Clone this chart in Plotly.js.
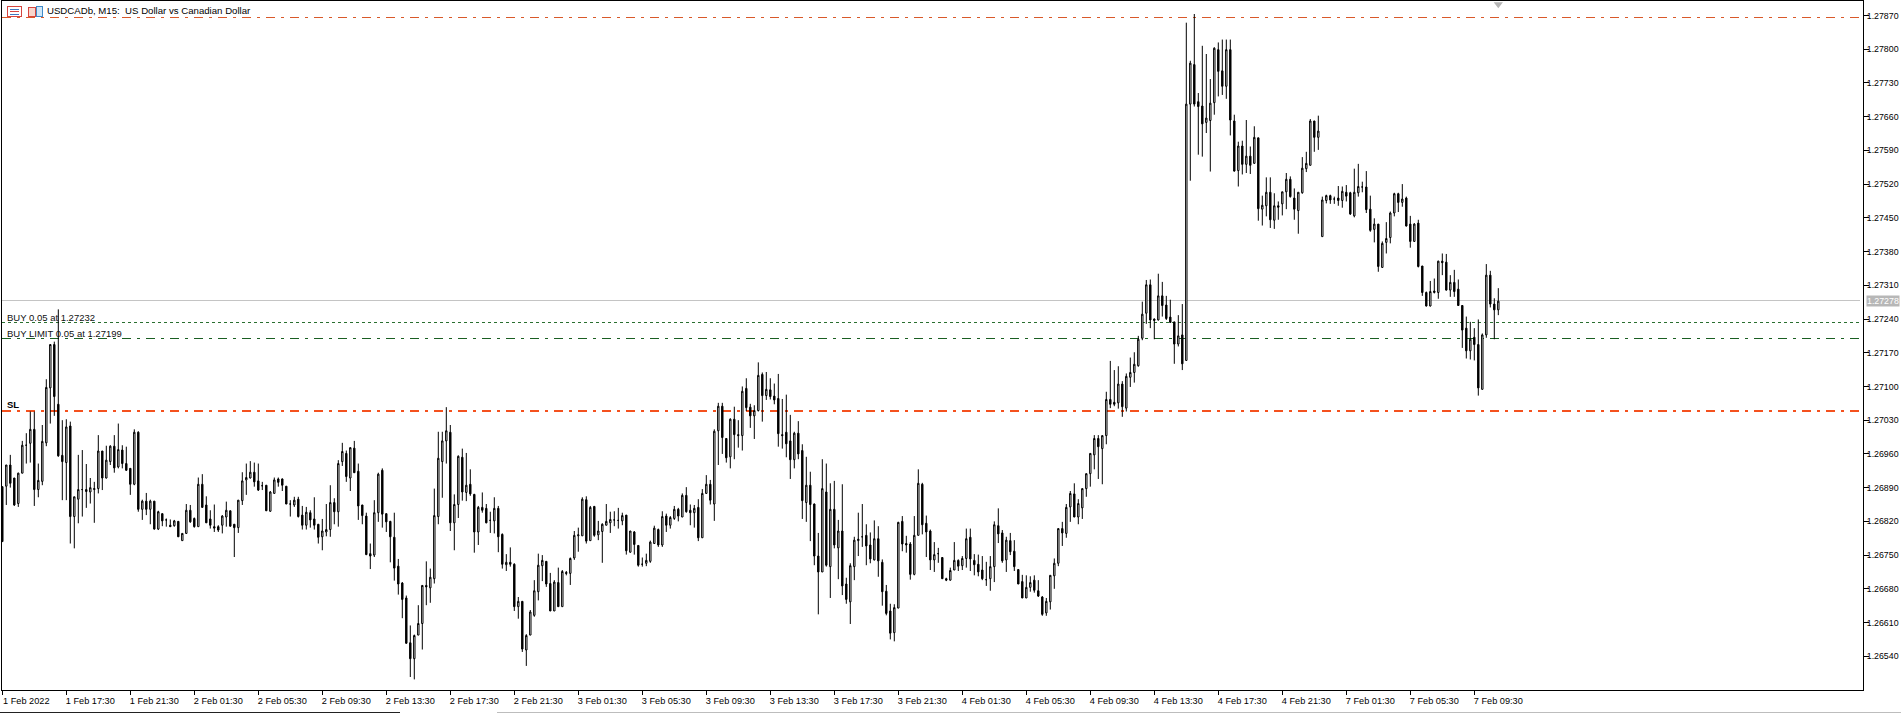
<!DOCTYPE html>
<html><head><meta charset="utf-8">
<script src="https://cdn.plot.ly/plotly-3.0.1.min.js"></script>
<style>html,body{margin:0;padding:0;background:#fff;overflow:hidden}#c{width:1901px;height:714px}
.shapelayer path{shape-rendering:crispEdges !important}</style>
</head><body><div id="c"></div>
<script>
// Prices are stored in points above 1.26000 (1 point = 0.00001)
const openPts=[892,893,937,910,857,920,978,982,1011,886,
903,983,1097,1187,1063,957,942,1018,830,866,
886,886,881,886,888,966,910,944,976,933,
968,940,930,897,1005,845,862,845,862,804,
836,823,812,811,820,780,795,843,826,809,
897,854,825,809,809,812,829,842,814,807,
863,906,910,922,904,894,895,841,878,908,
908,893,856,854,866,833,812,838,825,814,
788,798,803,859,840,944,961,910,972,924,
854,831,753,750,838,926,836,820,787,727,
692,661,568,535,584,608,687,682,701,830,
944,987,1005,817,855,953,880,897,876,798,
849,847,822,821,847,793,730,735,731,643,
654,553,584,625,674,728,737,691,634,693,
643,714,712,744,790,790,865,780,851,792,
799,812,817,823,822,821,833,756,798,770,
731,733,737,774,803,771,831,812,826,845,
829,874,843,838,849,786,878,897,856,1008,
1059,992,954,1032,1000,998,1096,1057,1039,1050,
1125,1081,1093,1080,1075,1000,1005,987,948,1003,
967,859,895,856,748,715,881,726,845,765,
800,690,653,726,780,788,791,771,740,784,
735,675,634,589,640,820,774,773,710,791,
897,816,800,740,753,745,701,698,719,739,
728,743,787,739,731,719,699,701,726,811,
796,740,780,758,720,695,661,683,698,676,
663,630,653,707,733,805,795,850,877,829,
848,888,919,958,992,971,998,1073,1067,1066,
1105,1055,1119,1129,1143,1200,1252,1311,1240,1238,
1288,1269,1244,1234,1188,1207,1154,1686,1768,1691,
1682,1648,1652,1689,1799,1755,1723,1799,1651,1548,
1599,1561,1578,1563,1616,1468,1475,1503,1445,1475,
1479,1504,1530,1491,1465,1502,1552,1559,1651,1617,
1411,1486,1496,1489,1491,1486,1503,1502,1454,1502,
1514,1514,1468,1426,1437,1347,1399,1409,1460,1500,
1482,1491,1437,1401,1439,1350,1295,1267,1295,1295,
1360,1358,1300,1316,1302,1268,1221,1174,1202,1187,
1094,1207,1331,1271,1259];
const highPts=[892,937,958,910,921,987,1003,1048,1048,940,
1020,1115,1187,1193,1260,1030,1032,1027,871,958,
968,939,910,902,999,966,977,978,999,1023,
978,975,930,1011,1007,865,879,865,862,842,
836,826,824,823,820,795,856,854,828,911,
918,872,843,855,812,833,861,842,814,864,
922,940,945,942,940,902,895,883,911,911,
909,893,864,871,871,852,850,843,870,814,
825,856,895,868,947,983,967,973,987,940,
854,838,774,864,921,930,836,821,838,742,
694,666,604,585,646,687,737,722,888,1006,
1006,1057,1020,876,957,971,962,928,877,852,
880,856,840,870,852,795,752,766,733,663,
654,586,636,698,753,750,737,713,698,724,
719,717,745,800,807,870,872,852,852,821,
816,856,840,841,848,838,833,800,800,770,
745,753,780,811,805,841,836,831,852,848,
878,891,855,854,866,887,916,906,1011,1066,
1066,992,1034,1058,1030,1100,1117,1064,1061,1150,
1129,1130,1117,1106,1126,1074,1083,1041,1006,1028,
980,954,923,857,796,949,940,899,904,823,
897,703,733,788,838,856,814,797,822,810,
741,688,649,648,819,831,790,777,831,928,
900,832,803,777,765,745,703,724,777,741,
748,805,805,752,751,748,736,748,820,847,
802,788,796,781,720,709,708,706,708,698,
665,661,708,743,805,819,856,883,899,866,
888,919,961,999,999,998,1089,1153,1134,1142,
1111,1127,1160,1171,1205,1276,1321,1322,1241,1334,
1317,1288,1280,1234,1248,1271,1855,1776,1873,1709,
1807,1790,1738,1804,1814,1820,1820,1820,1664,1608,
1610,1653,1598,1640,1616,1496,1534,1534,1501,1484,
1504,1543,1536,1511,1503,1576,1587,1655,1651,1662,
1494,1498,1498,1494,1516,1515,1518,1504,1552,1562,
1525,1547,1496,1449,1437,1401,1441,1463,1502,1502,
1520,1494,1454,1439,1446,1350,1297,1319,1324,1361,
1376,1375,1331,1342,1322,1269,1245,1234,1221,1239,
1210,1354,1340,1283,1304];
const lowPts=[778,854,890,852,850,920,940,942,852,870,
895,976,1023,1039,954,864,864,774,764,816,
830,848,857,817,878,885,909,937,921,930,
930,925,875,895,840,823,833,814,803,802,
810,809,809,809,788,780,794,817,807,809,
849,817,805,798,798,795,809,809,746,796,
854,875,909,892,883,885,842,840,878,892,
883,856,830,850,828,803,803,807,803,774,
760,789,788,814,809,935,902,883,921,823,
814,750,721,746,819,807,798,735,697,668,
619,566,497,492,584,554,646,651,691,814,
869,940,800,760,827,863,862,873,755,771,
838,816,796,795,756,722,717,726,634,618,
549,520,584,622,656,696,684,634,634,643,
643,708,688,740,757,790,774,780,788,781,
734,812,796,810,805,812,751,755,751,726,
726,727,734,774,767,767,798,805,823,820,
829,838,812,807,779,786,877,855,821,937,
960,942,930,949,973,967,1049,1014,991,1048,
1027,1072,1073,1063,975,971,953,908,930,949,
825,819,779,729,627,715,726,661,764,700,
667,649,607,698,748,767,729,733,739,705,
645,625,575,571,640,758,755,699,708,791,
793,746,719,715,734,701,696,697,719,717,
719,724,717,708,706,698,686,676,694,775,
734,715,750,717,690,661,661,674,672,663,
624,624,637,680,727,769,786,819,829,814,
825,871,892,928,908,897,980,1055,1059,1054,
1037,1048,1099,1108,1141,1196,1230,1221,1198,1237,
1245,1238,1232,1147,1183,1134,1154,1527,1681,1581,
1577,1626,1546,1664,1702,1705,1697,1621,1546,1515,
1540,1543,1541,1563,1444,1434,1453,1429,1427,1446,
1455,1468,1492,1446,1417,1500,1545,1559,1587,1591,
1411,1480,1479,1479,1475,1471,1484,1456,1451,1494,
1503,1460,1421,1399,1338,1347,1376,1397,1453,1462,
1473,1432,1388,1401,1347,1288,1266,1266,1293,1282,
1331,1299,1286,1286,1268,1180,1158,1156,1154,1081,
1094,1201,1264,1198,1248];
const closePts=[778,937,899,854,920,978,978,1011,886,905,
986,1098,1187,1079,956,944,1016,830,871,886,
886,882,890,888,966,910,947,976,931,969,
940,926,897,1005,845,862,845,862,804,840,
821,823,809,821,788,795,843,819,809,897,
849,817,812,806,802,831,843,810,807,864,
904,911,922,902,885,894,842,881,906,901,
895,856,856,864,830,812,839,823,812,787,
800,803,859,840,940,965,913,973,921,852,
832,751,748,838,918,835,819,788,723,690,
658,567,535,583,608,687,684,704,832,951,
987,1008,817,855,955,881,895,877,798,849,
843,817,822,847,788,731,735,731,643,654,
555,583,632,676,729,739,690,634,694,643,
716,712,743,791,792,866,779,849,791,800,
814,820,824,823,822,832,759,800,772,729,
731,739,777,806,771,830,812,828,845,831,
874,840,838,847,786,878,897,864,1007,1059,
994,952,1032,1000,998,1090,1056,1039,1050,1123,
1081,1094,1079,1072,1002,998,981,948,1003,960,
863,895,855,748,715,888,729,845,771,800,
686,658,728,781,783,788,769,742,784,738,
674,629,588,641,818,773,771,710,791,899,
813,798,740,751,753,701,698,718,739,727,
743,784,742,730,715,701,699,726,813,794,
738,781,757,726,690,661,683,693,677,665,
627,654,708,733,805,796,849,878,829,857,
888,919,961,992,975,998,1073,1063,1063,1105,
1058,1121,1129,1146,1198,1250,1311,1238,1237,1288,
1268,1241,1233,1188,1205,1147,1686,1771,1686,1681,
1645,1657,1688,1802,1754,1723,1799,1653,1547,1599,
1561,1578,1559,1617,1469,1476,1503,1446,1475,1472,
1504,1530,1494,1468,1503,1553,1563,1651,1617,1630,
1487,1496,1487,1489,1486,1505,1495,1458,1503,1515,
1514,1467,1424,1437,1349,1397,1407,1460,1500,1482,
1489,1433,1401,1437,1349,1295,1267,1297,1298,1360,
1357,1300,1316,1297,1268,1217,1174,1198,1187,1097,
1207,1331,1271,1259,1277];

const timeLabels=["1 Feb 2022","1 Feb 17:30","1 Feb 21:30","2 Feb 01:30","2 Feb 05:30","2 Feb 09:30","2 Feb 13:30","2 Feb 17:30","2 Feb 21:30","3 Feb 01:30","3 Feb 05:30","3 Feb 09:30","3 Feb 13:30","3 Feb 17:30","3 Feb 21:30","4 Feb 01:30","4 Feb 05:30","4 Feb 09:30","4 Feb 13:30","4 Feb 17:30","4 Feb 21:30","7 Feb 01:30","7 Feb 05:30","7 Feb 09:30"];
const timeTickBars=[0,16,32,48,64,80,96,112,128,144,160,176,192,208,224,240,256,272,288,304,320,336,352,368];
const priceTicks=[1.2654,1.2661,1.2668,1.2675,1.2682,1.2689,1.2696,1.2703,1.271,1.2717,1.2724,1.2731,1.2738,1.2745,1.2752,1.2759,1.2766,1.2773,1.278,1.2787];
const bidPrice=1.27278, buyPrice=1.27232, buyLimitPrice=1.27199, slPrice=1.2705, tpPrice=1.27865;

const toPrice=a=>a.map(v=>+(1.26+v/1e5).toFixed(5));
const W=1901,H=714,L=2,R=1863,T=1,B=690;
const px=x=>(x-L)/(R-L), py=y=>(B-y)/(B-T);
const barIdx=openPts.map((_,i)=>i);

const FONT='"Liberation Sans",Arial,sans-serif';
const MIDDOT='9px,6px,3px,6px';
const hline=(y,color,width,dash)=>({type:'line',layer:'below',xref:'paper',yref:'y',x0:0,x1:px(1860),y0:y,y1:y,line:{color,width,dash}});
const pxRect=(x0,y0,x1,y1,line,fill)=>({type:'rect',xref:'paper',yref:'paper',x0:px(x0),x1:px(x1),y0:py(y0),y1:py(y1),line:{color:line,width:1},fillcolor:fill||'rgba(0,0,0,0)'});
const pxLine=(x0,y0,x1,y1,color,w)=>({type:'line',xref:'paper',yref:'paper',x0:px(x0),x1:px(x1),y0:py(y0),y1:py(y1),line:{color,width:w||1}});

const shapes=[
 hline(bidPrice,'#c4c4c4',1,'solid'),
 hline(tpPrice,'#d9592a',1,MIDDOT),
 hline(buyPrice,'#2a6f30',1,'3px,3px'),
 hline(buyLimitPrice,'#1a5f22',1,MIDDOT),
 hline(slPrice,'#f4511e',2,MIDDOT),
 // toolbar icons
 pxRect(7.5,6.5,21.5,16.5,'#d6453f','#fff'),
 pxLine(10,9,19,9,'#3f78c0'),pxLine(10,11.5,19,11.5,'#d6453f'),pxLine(10,14,19,14,'#3f78c0'),
 pxRect(28.5,7.5,35,16.5,'#d6453f','#f9d6cc'),
 pxRect(36.5,6.5,42.5,16.5,'#3f8ac8','#cfe7f8'),
 // window strip under the chart
 pxLine(0,712,400,712,'#222'),pxLine(497,712,1901,712,'#bdbdbd')
];
const ann=(x,y,text,opts)=>Object.assign({xref:'paper',yref:'paper',x:px(x),y:py(y),xanchor:'left',yanchor:'middle',text,showarrow:false,borderpad:0,font:{family:FONT,size:9.65,color:'#000'}},opts||{});
const annotations=[
 ann(46,10,'USDCADb, M15:  US Dollar vs Canadian Dollar'),
 ann(5.5,317,'BUY 0.05 at 1.27232',{font:{family:FONT,size:9.5,color:'#111'}}),
 ann(5.5,333,'BUY LIMIT 0.05 at 1.27199',{font:{family:FONT,size:9.5,color:'#111'}}),
 ann(5.5,404.5,'<b>SL</b>',{font:{family:FONT,size:9.5,color:'#000'}}),
 {xref:'paper',yref:'y',x:px(1866),y:bidPrice,xanchor:'left',yanchor:'middle',text:'1.27278',showarrow:false,bgcolor:'#b7b7b7',borderpad:0,font:{family:FONT,size:8.8,color:'#fff'}}
];

const traces=[{
 type:'candlestick',x:barIdx,open:toPrice(openPts),high:toPrice(highPts),low:toPrice(lowPts),close:toPrice(closePts),
 increasing:{line:{color:'#000',width:1},fillcolor:'#fff'},
 decreasing:{line:{color:'#000',width:1},fillcolor:'#000'},
 whiskerwidth:0,hoverinfo:'skip',showlegend:false
},{
 type:'scatter',mode:'markers',x:[374],y:[1.27893],cliponaxis:false,hoverinfo:'skip',showlegend:false,
 marker:{symbol:'triangle-down',size:8,color:'#b5b5b5',line:{width:0}}
}];
const layout={
 width:W,height:H,autosize:false,paper_bgcolor:'#fff',plot_bgcolor:'#fff',showlegend:false,
 margin:{l:L,r:W-R,t:T,b:H-B,pad:0},boxgap:0.5,hovermode:false,
 font:{family:FONT,size:9.2,color:'#000'},
 xaxis:{type:'linear',range:[-0.075,465.175],rangeslider:{visible:false},tickmode:'array',tickvals:timeTickBars,ticktext:timeLabels,
  ticks:'outside',ticklen:4,tickwidth:1,tickcolor:'#000',showgrid:false,zeroline:false,showline:true,linecolor:'#000',linewidth:1,mirror:true,
  ticklabelshift:24,ticklabelstandoff:-2,ticklabeloverflow:'allow',tickfont:{family:FONT,size:9.2,color:'#000'},tickangle:0,automargin:false},
 yaxis:{side:'right',type:'linear',range:[1.26470,1.27900],tickmode:'array',tickvals:priceTicks,ticktext:priceTicks.map(v=>v.toFixed(5)),
  ticks:'outside',ticklen:5,tickwidth:1,tickcolor:'#000',showgrid:false,zeroline:false,showline:true,linecolor:'#000',linewidth:1,mirror:true,
  ticklabelstandoff:-4,tickfont:{family:FONT,size:8.8,color:'#000'},automargin:false},
 shapes,annotations
};
Plotly.newPlot('c',traces,layout,{displayModeBar:false,staticPlot:true,responsive:false});
</script></body></html>
